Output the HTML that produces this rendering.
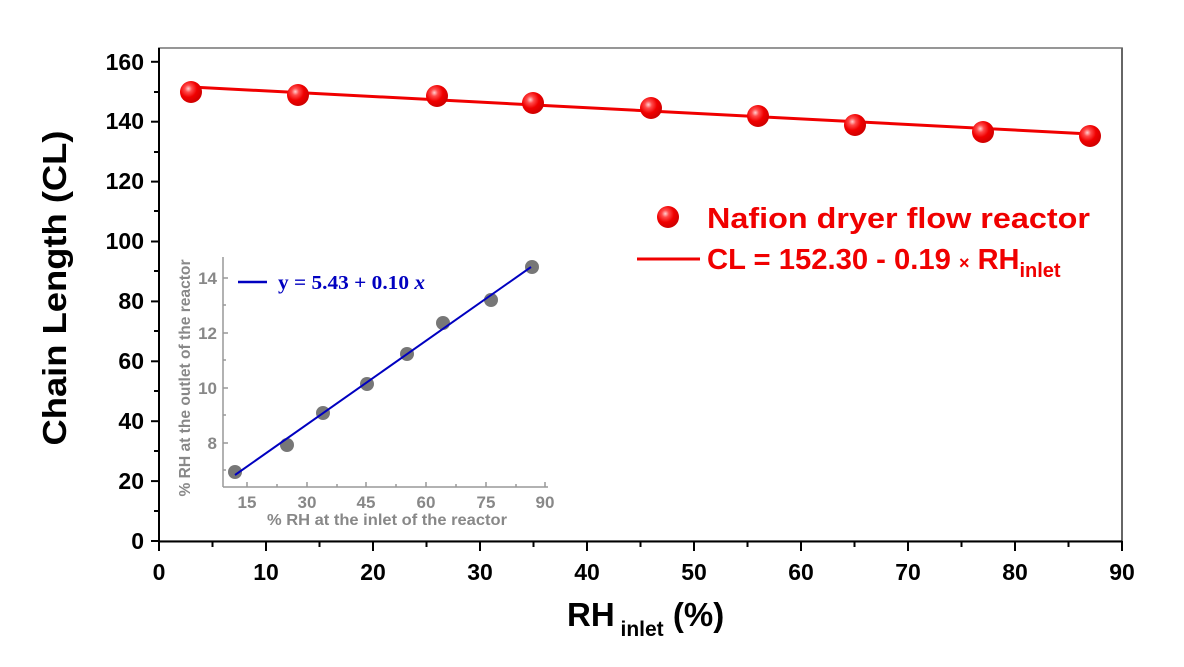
<!DOCTYPE html>
<html><head><style>body{margin:0;background:#fff}svg{display:block}</style></head><body>
<svg width="1184" height="667" xmlns="http://www.w3.org/2000/svg" font-family="Liberation Sans, Arial, sans-serif">
<defs>
<radialGradient id="rb" cx="0.38" cy="0.35" r="0.65">
<stop offset="0" stop-color="#ffd0d0"/><stop offset="0.25" stop-color="#ff4a4a"/><stop offset="0.6" stop-color="#f00000"/><stop offset="1" stop-color="#d00000"/>
</radialGradient>
</defs>
<rect x="159" y="48" width="963" height="493" fill="none" stroke="#000" stroke-width="1.2"/>
<line x1="159" y1="48" x2="1122" y2="48" stroke="#777" stroke-width="1.2"/>
<g stroke="#000" stroke-width="2">
<line x1="159" y1="48" x2="159" y2="542"/>
<line x1="158" y1="541.5" x2="1122" y2="541.5"/>
</g>
<g stroke="#000" stroke-width="2">
<line x1="151" y1="541" x2="159" y2="541"/><line x1="151" y1="481.1" x2="159" y2="481.1"/><line x1="151" y1="421.2" x2="159" y2="421.2"/><line x1="151" y1="361.3" x2="159" y2="361.3"/><line x1="151" y1="301.4" x2="159" y2="301.4"/><line x1="151" y1="241.5" x2="159" y2="241.5"/><line x1="151" y1="181.6" x2="159" y2="181.6"/><line x1="151" y1="121.7" x2="159" y2="121.7"/><line x1="151" y1="61.8" x2="159" y2="61.8"/>
<line x1="154" y1="511" x2="159" y2="511"/><line x1="154" y1="451" x2="159" y2="451"/><line x1="154" y1="391" x2="159" y2="391"/><line x1="154" y1="331" x2="159" y2="331"/><line x1="154" y1="271" x2="159" y2="271"/><line x1="154" y1="211" x2="159" y2="211"/><line x1="154" y1="152" x2="159" y2="152"/><line x1="154" y1="92" x2="159" y2="92"/>
</g>
<g font-size="23" font-weight="bold" text-anchor="end">
<text x="144" y="549">0</text><text x="144" y="489">20</text><text x="144" y="429">40</text><text x="144" y="369">60</text><text x="144" y="309">80</text><text x="144" y="249">100</text><text x="144" y="189">120</text><text x="144" y="129">140</text><text x="144" y="70">160</text>
</g>
<g stroke="#000" stroke-width="2">
<line x1="159" y1="541" x2="159" y2="551"/><line x1="266" y1="541" x2="266" y2="551"/><line x1="373" y1="541" x2="373" y2="551"/><line x1="480" y1="541" x2="480" y2="551"/><line x1="587" y1="541" x2="587" y2="551"/><line x1="694" y1="541" x2="694" y2="551"/><line x1="801" y1="541" x2="801" y2="551"/><line x1="908" y1="541" x2="908" y2="551"/><line x1="1015" y1="541" x2="1015" y2="551"/><line x1="1122" y1="541" x2="1122" y2="551"/>
<line x1="212.5" y1="541" x2="212.5" y2="547"/><line x1="319.5" y1="541" x2="319.5" y2="547"/><line x1="426.5" y1="541" x2="426.5" y2="547"/><line x1="533.5" y1="541" x2="533.5" y2="547"/><line x1="640.5" y1="541" x2="640.5" y2="547"/><line x1="747.5" y1="541" x2="747.5" y2="547"/><line x1="854.5" y1="541" x2="854.5" y2="547"/><line x1="961.5" y1="541" x2="961.5" y2="547"/><line x1="1068.5" y1="541" x2="1068.5" y2="547"/>
</g>
<g font-size="23" font-weight="bold" text-anchor="middle">
<text x="159" y="580">0</text><text x="266" y="580">10</text><text x="373" y="580">20</text><text x="480" y="580">30</text><text x="587" y="580">40</text><text x="694" y="580">50</text><text x="801" y="580">60</text><text x="908" y="580">70</text><text x="1015" y="580">80</text><text x="1122" y="580">90</text>
</g>
<text x="567" y="626" font-size="33" font-weight="bold">RH<tspan font-size="21" dy="10"> inlet</tspan><tspan dy="-10"> (%)</tspan></text>
<text transform="translate(66,288) rotate(-90)" font-size="33" font-weight="bold" text-anchor="middle" textLength="315" lengthAdjust="spacingAndGlyphs">Chain Length (CL)</text>
<line x1="191" y1="87" x2="1090" y2="134" stroke="#f00000" stroke-width="3"/>
<g fill="url(#rb)">
<circle cx="191" cy="92" r="11"/><circle cx="298" cy="95" r="11"/><circle cx="437" cy="96" r="11"/><circle cx="533" cy="103" r="11"/><circle cx="651" cy="108" r="11"/><circle cx="758" cy="116" r="11"/><circle cx="855" cy="125" r="11"/><circle cx="983" cy="132" r="11"/><circle cx="1090" cy="136" r="11"/>
</g>
<circle cx="668" cy="217" r="11" fill="url(#rb)"/>
<text x="707" y="228" font-size="29" font-weight="bold" fill="#f00000" textLength="383" lengthAdjust="spacingAndGlyphs">Nafion dryer flow reactor</text>
<line x1="637" y1="259" x2="700" y2="259" stroke="#f00000" stroke-width="3"/>
<text x="707" y="269" font-size="29" font-weight="bold" fill="#f00000"><tspan textLength="252" lengthAdjust="spacingAndGlyphs">CL = 152.30 - 0.19 </tspan><tspan font-size="18">×</tspan><tspan> RH</tspan><tspan font-size="20" dy="8">inlet</tspan></text>
<g stroke="#999" stroke-width="1.5">
<line x1="223" y1="257" x2="223" y2="487"/><line x1="223" y1="487" x2="548" y2="487"/>
<line x1="223" y1="278" x2="228" y2="278"/><line x1="223" y1="333" x2="228" y2="333"/><line x1="223" y1="388" x2="228" y2="388"/><line x1="223" y1="443" x2="228" y2="443"/>
<line x1="223" y1="305" x2="226" y2="305"/><line x1="223" y1="360" x2="226" y2="360"/><line x1="223" y1="415" x2="226" y2="415"/><line x1="223" y1="470" x2="226" y2="470"/>
<line x1="247" y1="487" x2="247" y2="482"/><line x1="307" y1="487" x2="307" y2="482"/><line x1="366" y1="487" x2="366" y2="482"/><line x1="426" y1="487" x2="426" y2="482"/><line x1="486" y1="487" x2="486" y2="482"/><line x1="545" y1="487" x2="545" y2="482"/>
<line x1="277" y1="487" x2="277" y2="484"/><line x1="337" y1="487" x2="337" y2="484"/><line x1="396" y1="487" x2="396" y2="484"/><line x1="456" y1="487" x2="456" y2="484"/><line x1="516" y1="487" x2="516" y2="484"/>
</g>
<g font-size="17" font-weight="bold" fill="#888" text-anchor="end">
<text x="217" y="284">14</text><text x="217" y="339">12</text><text x="217" y="394">10</text><text x="217" y="449">8</text>
</g>
<g font-size="17" font-weight="bold" fill="#888" text-anchor="middle">
<text x="247" y="508">15</text><text x="307" y="508">30</text><text x="366" y="508">45</text><text x="426" y="508">60</text><text x="486" y="508">75</text><text x="545" y="508">90</text>
</g>
<text x="387" y="525" font-size="16" font-weight="bold" fill="#888" text-anchor="middle" textLength="240" lengthAdjust="spacingAndGlyphs">% RH at the inlet of the reactor</text>
<text transform="translate(190,378) rotate(-90)" font-size="16" font-weight="bold" fill="#888" text-anchor="middle" textLength="237" lengthAdjust="spacingAndGlyphs">% RH at the outlet of the reactor</text>
<g fill="#777">
<circle cx="235" cy="472" r="7"/><circle cx="287" cy="445" r="7"/><circle cx="323" cy="413" r="7"/><circle cx="367" cy="384" r="7"/><circle cx="407" cy="354" r="7"/><circle cx="443" cy="323" r="7"/><circle cx="491" cy="300" r="7"/><circle cx="532" cy="267" r="7"/>
</g>
<line x1="235" y1="475" x2="531" y2="267" stroke="#0000c0" stroke-width="2"/>
<line x1="238" y1="282" x2="267" y2="282" stroke="#0000c0" stroke-width="2.5"/>
<text x="278" y="289" font-family="Liberation Serif, serif" font-size="20" font-weight="bold" fill="#0000c0" textLength="147" lengthAdjust="spacingAndGlyphs">y = 5.43 + 0.10 <tspan font-style="italic">x</tspan></text>
</svg>
</body></html>
